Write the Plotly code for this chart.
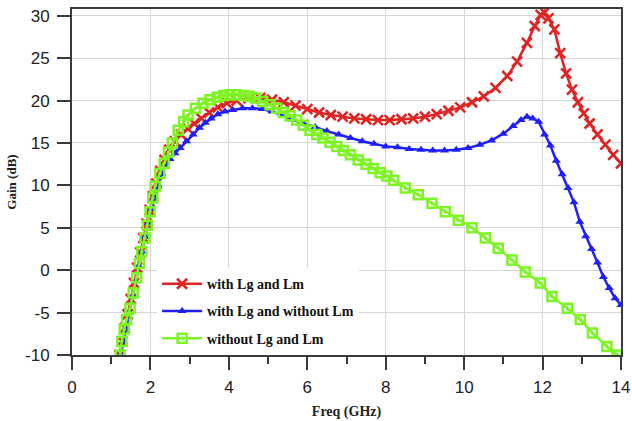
import plotly.graph_objects as go

# ---- data ----
red_name = "with Lg and Lm"
red_x = [1.21, 1.28, 1.35, 1.42, 1.50, 1.58, 1.66, 1.74, 1.82, 1.90, 1.98, 2.06, 2.15, 2.25, 2.36,
         2.48, 2.62, 2.78, 2.95, 3.12, 3.30, 3.50, 3.72, 3.95, 4.2, 4.5, 4.8, 5.1, 5.4, 5.7, 6.0,
         6.3, 6.6, 6.9, 7.2, 7.5, 7.8, 8.1, 8.4, 8.7, 9.0, 9.3, 9.6, 9.9, 10.2, 10.5, 10.8, 11.1,
         11.35, 11.6, 11.8, 11.95, 12.05, 12.15, 12.3, 12.45, 12.6, 12.75, 12.9, 13.05, 13.2,
         13.4, 13.6, 13.8, 14.0]
red_y = [-10, -8.4, -6.8, -5.2, -3.4, -1.5, 0.3, 2.1, 3.8, 5.5, 7.1, 8.7, 10.2, 11.7, 13.0,
         14.2, 15.2, 16.0, 16.7, 17.3, 17.9, 18.6, 19.2, 19.7, 20.0, 20.3, 20.3, 20.1, 19.8, 19.4, 19.0,
         18.6, 18.3, 18.1, 17.9, 17.8, 17.7, 17.7, 17.8, 17.9, 18.1, 18.4, 18.8, 19.2, 19.8, 20.5, 21.5, 22.9,
         24.6, 26.8, 28.8, 30.1, 30.4, 29.7, 28.4, 25.6, 23.2, 21.3, 19.8, 18.5, 17.3,
         16.0, 14.8, 13.6, 12.6]

blue_name = "with Lg and without Lm"
blue_x = [1.24, 1.31, 1.38, 1.46, 1.54, 1.62, 1.70, 1.78, 1.86, 1.94, 2.02, 2.10, 2.19, 2.28, 2.38,
          2.50, 2.63, 2.76, 2.92, 3.09, 3.25, 3.40, 3.55, 3.72, 3.90, 4.10, 4.35, 4.6, 4.85, 5.1,
          5.35, 5.6, 5.9, 6.2, 6.5, 6.8, 7.1, 7.4, 7.7, 8.0, 8.3, 8.6, 8.9, 9.2, 9.5, 9.8, 10.1,
          10.4, 10.7, 11.0, 11.25, 11.45, 11.6, 11.75, 11.9, 12.05, 12.2, 12.35, 12.5, 12.65, 12.8,
          12.95, 13.1, 13.25, 13.4, 13.55, 13.7, 13.85, 14.0]
blue_y = [-10, -8.4, -6.8, -5.0, -3.1, -1.3, 0.5, 2.2, 3.9, 5.6, 7.2, 8.7, 10.1, 11.3, 12.2,
          13.1, 13.8, 14.4, 15.2, 16.0, 16.8, 17.4, 17.9, 18.4, 18.7, 18.9, 19.1, 19.1, 19.0, 18.7,
          18.3, 17.8, 17.3, 16.9, 16.4, 16.0, 15.6, 15.2, 14.9, 14.6, 14.5, 14.3, 14.2, 14.1, 14.1, 14.2, 14.4,
          14.8, 15.3, 16.1, 17.0, 17.7, 18.1, 17.9, 17.5, 16.0, 14.7, 12.9, 11.3, 9.7, 8.0,
          5.7, 4.0, 2.5, 0.9, -0.8, -2.1, -3.3, -4.1]

green_name = "without Lg and Lm"
green_x = [1.23, 1.27, 1.33, 1.39, 1.48, 1.56, 1.65, 1.72, 1.78, 1.86, 1.92, 1.99, 2.06, 2.12, 2.24,
           2.35, 2.46, 2.56, 2.71, 2.85, 2.96, 3.15, 3.34, 3.52, 3.7, 3.87, 4.03, 4.2, 4.37, 4.52,
           4.67, 4.86, 5.05, 5.22, 5.39, 5.56, 5.73, 5.9, 6.07, 6.24, 6.4, 6.58, 6.75, 6.92, 7.1,
           7.3, 7.5, 7.68, 7.86, 8.03, 8.2, 8.5, 8.83, 9.18, 9.52, 9.85, 10.2, 10.54, 10.87, 11.22,
           11.56, 11.94, 12.24, 12.63, 12.96, 13.27, 13.64, 13.9]
green_y = [-10, -8.4, -7.0, -5.8, -4.5, -2.7, -0.9, 0.8, 2.2, 3.8, 5.3, 6.9, 8.5, 9.9, 11.4,
           12.6, 13.9, 15.0, 16.5, 17.5, 18.3, 19.1, 19.7, 20.1, 20.4, 20.6, 20.7, 20.7, 20.6, 20.5,
           20.3, 19.9, 19.5, 19.1, 18.6, 18.2, 17.7, 17.1, 16.5, 16.0, 15.6, 15.1, 14.6, 14.1, 13.6,
           13.0, 12.5, 12.0, 11.5, 11.1, 10.6, 9.7, 8.9, 7.9, 6.9, 5.9, 5.0, 3.8, 2.6, 1.2,
           -0.2, -1.5, -3.1, -4.5, -5.8, -7.4, -9.0, -10]

x_ticks = [0, 2, 4, 6, 8, 10, 12, 14]
x_tick_labels = ["0", "2", "4", "6", "8", "10", "12", "14"]
y_ticks = [-10, -5, 0, 5, 10, 15, 20, 25, 30]
y_tick_labels = ["-10", "-5", "0", "5", "10", "15", "20", "25", "30"]
x_title = "Freq (GHz)"
y_title = "Gain (dB)"

# ---- figure ----
fig = go.Figure()
fig.add_trace(go.Scatter(x=red_x, y=red_y, name=red_name, mode="lines+markers",
                         line=dict(color="#e02424", width=2.5),
                         marker=dict(symbol="x-thin", size=10, line=dict(color="#e02424", width=2.6)),
                         legendgroup="a"))
fig.add_trace(go.Scatter(x=blue_x, y=blue_y, name=blue_name, mode="lines+markers",
                         line=dict(color="#1f1fff", width=2.5),
                         marker=dict(symbol="triangle-up", size=8, color="#1f1fff"),
                         legendgroup="b"))
fig.add_trace(go.Scatter(x=green_x, y=green_y, name=green_name, mode="lines+markers",
                         line=dict(color="#7cf522", width=2.5),
                         marker=dict(symbol="square-open-dot", size=9, color="#7cf522",
                                     line=dict(color="#7cf522", width=2.5)),
                         legendgroup="c"))

axis_common = dict(
    showline=True, linecolor="#3a3a3a", linewidth=2, mirror=True,
    showgrid=True, gridcolor="#d6d6d6", gridwidth=1,
    ticks="outside", ticklen=13, tickwidth=2, tickcolor="#3a3a3a",
    tickfont=dict(family="Liberation Sans, Arial, sans-serif", size=17, color="#222"),
    zeroline=False, automargin=False, ticklabeloverflow="allow",
)

fig.update_xaxes(range=[0, 14], tickvals=x_ticks, ticktext=x_tick_labels, ticklabelstandoff=3,
                 minor=dict(dtick=1, tick0=0, ticks="outside", ticklen=7, tickwidth=2,
                            tickcolor="#3a3a3a", showgrid=False),
                 title=dict(text="<b>" + x_title + "</b>", standoff=10,
                            font=dict(family="Liberation Serif, Times New Roman, serif", size=14, color="#222")),
                 **axis_common)
fig.update_yaxes(range=[-10, 30.8], tickvals=y_ticks, ticktext=y_tick_labels, ticklabelstandoff=4,
                 title=dict(text="<b>" + y_title + "</b>", standoff=5,
                            font=dict(family="Liberation Serif, Times New Roman, serif", size=13, color="#222")),
                 **axis_common)

fig.update_layout(
    width=632, height=421,
    margin=dict(l=72, r=11, t=9, b=66),
    plot_bgcolor="white", paper_bgcolor="white",
    showlegend=True,
    legend=dict(x=0.155, y=0.251, xanchor="left", yanchor="top",
                bgcolor="white", borderwidth=0,
                font=dict(family="Liberation Serif, Times New Roman, serif", size=14, color="#111",
                          weight="bold"),
                tracegroupgap=6, traceorder="grouped", itemwidth=40),
)

fig.write_html("out.html", config={"displayModeBar": False},
               post_script="document.body.style.margin='0';")
